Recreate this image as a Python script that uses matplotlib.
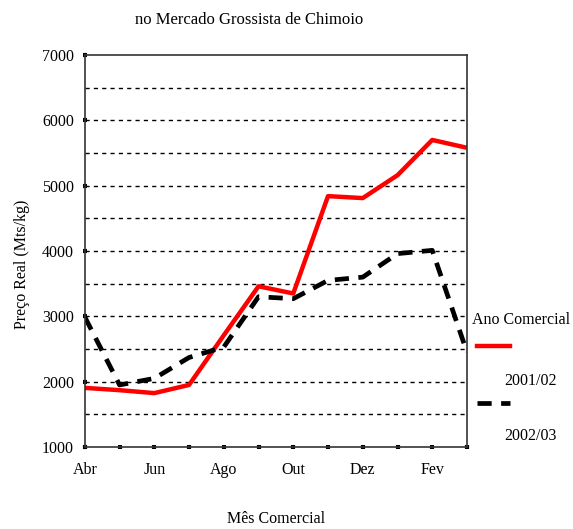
import matplotlib
matplotlib.use('Agg')
import matplotlib.pyplot as plt
import numpy as np

plt.rcParams['font.family'] = ['Liberation Serif', 'DejaVu Serif']

months = ['Abr', 'Mai', 'Jun', 'Jul', 'Ago', 'Set', 'Out', 'Nov', 'Dez', 'Jan', 'Fev', 'Mar']
tick_labels = ['Abr', '', 'Jun', '', 'Ago', '', 'Out', '', 'Dez', '', 'Fev', '']
price_2001 = [1905, 1870, 1825, 1950, 2710, 3460, 3350, 4840, 4810, 5160, 5700, 5580]
price_2002 = [2990, 1950, 2050, 2370, 2530, 3300, 3270, 3550, 3600, 3960, 4010, 2450]

fig = plt.figure(figsize=(5.73, 5.29), dpi=100)
ax = fig.add_axes([0.148, 0.155, 0.667, 0.741])
x = np.arange(len(months))

ax.plot(x, price_2001, color='#ff0000', lw=3.2, solid_capstyle='butt', label='2001/02')
ax.plot(x, price_2002, color='black', lw=3.4, dashes=(3, 2), label='2002/03')

ax.set_xlim(0, 11)
ax.set_ylim(1000, 7000)
ax.set_xticks(x)
ax.set_xticklabels(tick_labels, fontsize=11.5)
ax.set_yticks(range(1000, 7001, 1000))
ax.set_yticklabels([str(v) for v in range(1000, 7001, 1000)], fontsize=11.5)
ax.tick_params(axis='both', length=3.5, width=3, direction='inout')
ax.tick_params(axis='x', pad=9)
ax.tick_params(axis='y', pad=6)
for v in range(1500, 7000, 500):
    ax.axhline(v, color='black', lw=1, ls=(0, (3, 3)), zorder=0)

for s in ax.spines.values():
    s.set_linewidth(1.2)
    s.set_color('#333333')

fig.text(0.435, 0.962, 'no Mercado Grossista de Chimoio', ha='center', va='center', fontsize=12)
fig.text(0.482, 0.019, 'Mês Comercial', ha='center', va='center', fontsize=11.5)
fig.text(0.038, 0.5, 'Preço Real (Mts/kg)', ha='center', va='center', rotation=90, fontsize=11.5)

# legend drawn by hand to match the layout
fig.text(0.823, 0.395, 'Ano Comercial', ha='left', va='center', fontsize=11.5)
fig.add_artist(plt.Line2D([0.832, 0.89], [0.346, 0.346], color='#ff0000', lw=3.2, transform=fig.transFigure))
fig.text(0.88, 0.28, '2001/02', ha='left', va='center', fontsize=11.5)
fig.add_artist(plt.Line2D([0.832, 0.89], [0.238, 0.238], color='black', lw=3.4, dashes=(3, 2), transform=fig.transFigure))
fig.text(0.88, 0.176, '2002/03', ha='left', va='center', fontsize=11.5)

fig.savefig('out.png', dpi=100)
